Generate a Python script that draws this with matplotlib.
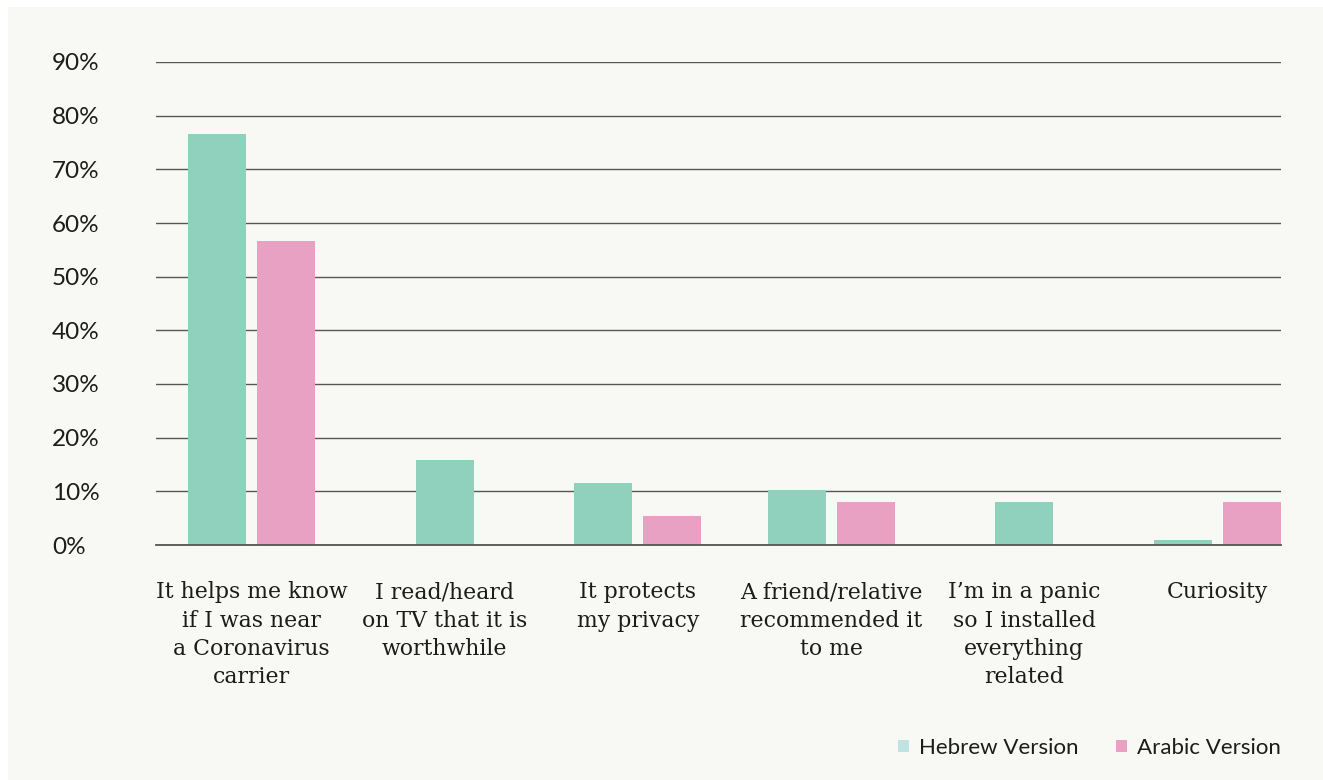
import matplotlib
matplotlib.use("Agg")
import matplotlib.pyplot as plt
from matplotlib.patches import Patch, Rectangle
import numpy as np

# datos
categorias = [
    "It helps me know\nif I was near\na Coronavirus\ncarrier",
    "I read/heard\non TV that it is\nworthwhile",
    "It protects\nmy privacy",
    "A friend/relative\nrecommended it\nto me",
    "I\u2019m in a panic\nso I installed\neverything\nrelated",
    "Curiosity",
]
hebreo = [76.6, 15.8, 11.6, 10.3, 8.0, 0.9]
arabe = [56.7, None, 5.4, 8.0, None, 8.0]
yticks = [0, 10, 20, 30, 40, 50, 60, 70, 80, 90]

c_heb = "#8fd1bc"
c_ara = "#e8a0c3"
c_heb_ley = "#bfe3e1"
fondo = "#f8f8f4"
texto = "#1c1c1c"
linea = "#555555"

W, H = 1323, 780
fig = plt.figure(figsize=(W / 100, H / 100), dpi=100, facecolor="white")
fig.patches.append(Rectangle((8 / W, 0), 1, (H - 7) / H, transform=fig.transFigure,
                             facecolor=fondo, edgecolor="none", zorder=-10))

ax = fig.add_axes([156 / W, (H - 545) / H, (1281 - 156) / W, (545 - 62) / H])
ax.set_facecolor("none")
ax.set_zorder(1)

ancho = 0.30
desp = 0.1785
x = np.arange(len(categorias))
for i in x:
    h, a = hebreo[i], arabe[i]
    if a is None:
        ax.bar(i, h, ancho, color=c_heb, zorder=2)
    else:
        ax.bar(i - desp, h, ancho, color=c_heb, zorder=2)
        ax.bar(i + desp, a, ancho, color=c_ara, zorder=2)

ax.set_xlim(-0.494, 5.329)
ax.set_ylim(0, 90)
ax.set_yticks(yticks)
ax.set_yticklabels([f"{v}%" for v in yticks], fontsize=17.5, family="Lato",
                   color=texto, ha="left")
ax.tick_params(axis="y", length=0, pad=75)
ax.grid(axis="y", color=linea, linewidth=1.0, zorder=1)
ax.set_axisbelow(True)
ax.axhline(0, color=linea, linewidth=1.3, zorder=3, clip_on=False)

ax.set_xticks(x)
ax.set_xticklabels(categorias, fontsize=15.8, family="DejaVu Serif", color=texto,
                   linespacing=1.38, va="top")
ax.tick_params(axis="x", length=0, pad=26)

for s in ax.spines.values():
    s.set_visible(False)

manejadores = [Patch(facecolor=c_heb_ley, label="Hebrew Version"),
               Patch(facecolor=c_ara, label="Arabic Version")]
fig.legend(handles=manejadores, loc="center right",
           bbox_to_anchor=(1281 / W, (H - 748) / H), frameon=False, ncol=2,
           prop={"family": "Lato", "size": 16}, handlelength=0.5, handleheight=0.5,
           handletextpad=0.45, columnspacing=1.7, labelcolor=texto,
           borderpad=0, borderaxespad=0)

fig.savefig("out.png", dpi=100, facecolor="white")
